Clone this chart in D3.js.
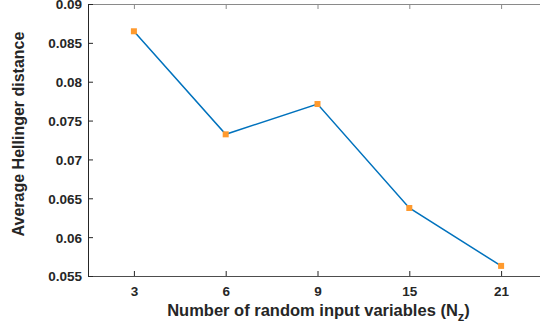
<!DOCTYPE html>
<html>
<head>
<meta charset="utf-8">
<script src="https://cdn.jsdelivr.net/npm/d3@7"></script>
<style>
  body { margin: 0; background: #fff; }
  svg { display: block; font-family: "Liberation Sans", Arial, sans-serif; }
  .tick text { font-size: 13.5px; font-weight: bold; fill: #262626; }
</style>
</head>
<body>
<svg id="chart" width="540" height="330"></svg>
<script>
var categories = ['3', '6', '9', '15', '21'];
var hellinger = [0.08649, 0.07323, 0.07713, 0.06375, 0.0563];
var yTicks = [0.055, 0.06, 0.065, 0.07, 0.075, 0.08, 0.085, 0.09];

var margin = { left: 88, top: 4, right: -7, bottom: 54 };
var width = 540, height = 330;

var svg = d3.select('#chart');

var x = d3.scaleLinear()
  .domain([0.5, categories.length + 0.5])
  .range([margin.left, width - margin.right]);

var y = d3.scaleLinear()
  .domain([0.055, 0.09])
  .range([height - margin.bottom, margin.top]);

// top box line + ticks
svg.append('g')
  .attr('transform', 'translate(0,' + margin.top + ')')
  .call(d3.axisTop(x).tickValues(d3.range(1, categories.length + 1)).tickSize(-5).tickFormat(''))
  .call(function(g) {
    g.selectAll('line, path').attr('stroke', '#8a8a8a').attr('stroke-width', 1);
  });

// x axis
var xAxis = svg.append('g')
  .attr('transform', 'translate(0,' + (height - margin.bottom) + ')')
  .call(d3.axisBottom(x)
    .tickValues(d3.range(1, categories.length + 1))
    .tickSize(-5)
    .tickPadding(10)
    .tickSizeOuter(0)
    .tickFormat(function(d) { return categories[d - 1]; }));
xAxis.selectAll('line, path').attr('stroke', '#262626').attr('stroke-width', 1);
xAxis.select('.domain').attr('stroke', '#4d4d4d');

// y axis
var yAxis = svg.append('g')
  .attr('transform', 'translate(' + margin.left + ',0)')
  .call(d3.axisLeft(y)
    .tickValues(yTicks)
    .tickSize(-5)
    .tickPadding(6)
    .tickSizeOuter(0)
    .tickFormat(function(d) { return d3.format('')(+d.toFixed(3)); }));
yAxis.selectAll('line, path').attr('stroke', '#262626').attr('stroke-width', 1);
yAxis.selectAll('.tick text').attr('dy', '0.36em');

// line
var line = d3.line()
  .x(function(d, i) { return x(i + 1); })
  .y(function(d) { return y(d); });

svg.append('path')
  .datum(hellinger)
  .attr('fill', 'none')
  .attr('stroke', '#0072BD')
  .attr('stroke-width', 1.5)
  .attr('d', line);

svg.selectAll('.marker')
  .data(hellinger)
  .enter()
  .append('rect')
  .attr('class', 'marker')
  .attr('x', function(d, i) { return x(i + 1) - 3; })
  .attr('y', function(d) { return y(d) - 3; })
  .attr('width', 6)
  .attr('height', 6)
  .attr('fill', '#FF9A2E');

// axis labels
var xl = svg.append('text')
  .attr('x', (margin.left + width - margin.right) / 2 + 1)
  .attr('y', 316)
  .attr('text-anchor', 'middle')
  .attr('font-size', 16.5)
  .attr('font-weight', 'bold')
  .attr('fill', '#262626');
xl.append('tspan').text('Number of random input variables (N');
xl.append('tspan').attr('dy', 5).attr('font-size', 13).text('z');
xl.append('tspan').attr('dy', -5).text(')');

svg.append('text')
  .attr('transform', 'translate(24,' + 134 + ') rotate(-90)')
  .attr('text-anchor', 'middle')
  .attr('font-size', 16)
  .attr('font-weight', 'bold')
  .attr('fill', '#262626')
  .text('Average Hellinger distance');
</script>
</body>
</html>
